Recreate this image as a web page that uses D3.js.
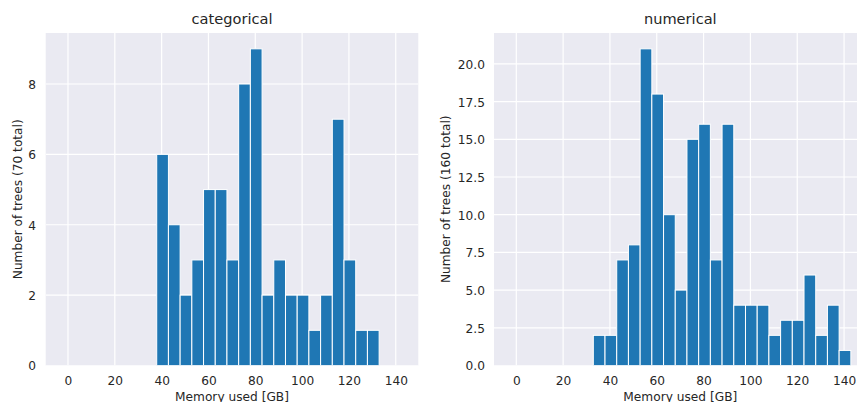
<!DOCTYPE html>
<html>
<head>
<meta charset="utf-8">
<script src="https://cdn.jsdelivr.net/npm/d3@7"></script>
<style>
  html, body { margin: 0; padding: 0; background: #ffffff; }
  svg { display: block; }
  text { font-family: "DejaVu Sans", sans-serif; fill: #262626; }
</style>
</head>
<body>
<svg id="chart" width="857" height="402"></svg>
<script>
// Memory used per tree, histogram counts (5 GB bins)
const binWidth = 5;
const catBinStart = 37.9;
const catCounts = [6, 4, 2, 3, 5, 5, 3, 8, 9, 2, 3, 2, 2, 1, 2, 7, 3, 1, 1];
const numBinStart = 32.9;
const numCounts = [2, 2, 7, 8, 21, 18, 10, 5, 15, 16, 7, 16, 4, 4, 4, 2, 3, 3, 6, 2, 4, 1];

const xTicks = [0, 20, 40, 60, 80, 100, 120, 140];
const catYTicks = [0, 2, 4, 6, 8];
const numYTicks = [0, 2.5, 5, 7.5, 10, 12.5, 15, 17.5, 20];

const panels = [
  { title: "categorical", counts: catCounts, start: catBinStart,
    yLabel: "Number of trees (70 total)", yTicks: catYTicks, yFmt: d3.format("d"),
    left: 45.7, right: 418.3, yLabelX: 21.7, yTickX: 36 },
  { title: "numerical", counts: numCounts, start: numBinStart,
    yLabel: "Number of trees (160 total)", yTicks: numYTicks, yFmt: d3.format(".1f"),
    left: 494, right: 866.6, yLabelX: 450, yTickX: 485 }
];

const plotTop = 33, plotBottom = 365.5;
const xDomain = [-9.52, 149.63];
const svg = d3.select("#chart");
const defs = svg.append("defs");

panels.forEach((p, k) => {
  const x = d3.scaleLinear().domain(xDomain).range([p.left, p.right]);
  const yMax = d3.max(p.counts) * 1.05;
  const y = d3.scaleLinear().domain([0, yMax]).range([plotBottom, plotTop]);

  const g = svg.append("g").attr("class", "panel-" + k);
  const clipId = "clip" + k;
  defs.append("clipPath").attr("id", clipId)
    .append("rect").attr("x", p.left).attr("y", plotTop)
    .attr("width", p.right - p.left).attr("height", plotBottom - plotTop);

  // plot background
  g.append("rect")
    .attr("x", p.left).attr("y", plotTop)
    .attr("width", p.right - p.left).attr("height", plotBottom - plotTop)
    .attr("fill", "#EAEAF2");

  // grid lines
  const grid = g.append("g").attr("clip-path", `url(#${clipId})`);
  grid.selectAll("line.vx").data(xTicks).join("line")
    .attr("class", "vx")
    .attr("x1", d => x(d)).attr("x2", d => x(d))
    .attr("y1", plotTop).attr("y2", plotBottom)
    .attr("stroke", "#ffffff").attr("stroke-width", 1.2);
  grid.selectAll("line.hy").data(p.yTicks).join("line")
    .attr("class", "hy")
    .attr("x1", p.left).attr("x2", p.right)
    .attr("y1", d => y(d)).attr("y2", d => y(d))
    .attr("stroke", "#ffffff").attr("stroke-width", 1.2);

  // histogram bars
  g.append("g").attr("clip-path", `url(#${clipId})`)
    .selectAll("rect").data(p.counts).join("rect")
    .attr("x", (d, i) => x(p.start + i * binWidth))
    .attr("width", (d, i) => x(p.start + (i + 1) * binWidth) - x(p.start + i * binWidth))
    .attr("y", d => y(d))
    .attr("height", d => y(0) - y(d))
    .attr("fill", "#1f77b4")
    .attr("stroke", "#ffffff")
    .attr("stroke-width", 1);

  // axes (no tick marks, labels only)
  const xAxis = d3.axisBottom(x).tickValues(xTicks).tickSize(0).tickPadding(0)
    .tickFormat(d3.format("d"));
  const xa = g.append("g").attr("transform", `translate(0,${plotBottom})`).call(xAxis);
  xa.select(".domain").remove();
  xa.selectAll("text")
    .attr("y", 19.7).attr("dy", null)
    .style("font-family", '"DejaVu Sans", sans-serif')
    .style("font-size", "12.2px").style("fill", "#262626");

  const yAxis = d3.axisLeft(y).tickValues(p.yTicks).tickSize(0).tickPadding(0)
    .tickFormat(p.yFmt);
  const ya = g.append("g").attr("transform", `translate(${p.left},0)`).call(yAxis);
  ya.select(".domain").remove();
  ya.selectAll("text")
    .attr("x", p.yTickX - p.left).attr("dy", "0.36em")
    .style("font-family", '"DejaVu Sans", sans-serif')
    .style("font-size", "12.2px").style("fill", "#262626");

  // title and axis labels
  g.append("text")
    .attr("x", (p.left + p.right) / 2).attr("y", 24.4)
    .attr("text-anchor", "middle")
    .style("font-size", "14.6px")
    .text(p.title);

  g.append("text")
    .attr("x", (p.left + p.right) / 2).attr("y", 400.5)
    .attr("text-anchor", "middle")
    .style("font-size", "12.2px")
    .text("Memory used [GB]");

  g.append("text")
    .attr("transform", `translate(${p.yLabelX},${(plotTop + plotBottom) / 2}) rotate(-90)`)
    .attr("text-anchor", "middle")
    .style("font-size", "12.2px")
    .text(p.yLabel);
});
</script>
</body>
</html>
